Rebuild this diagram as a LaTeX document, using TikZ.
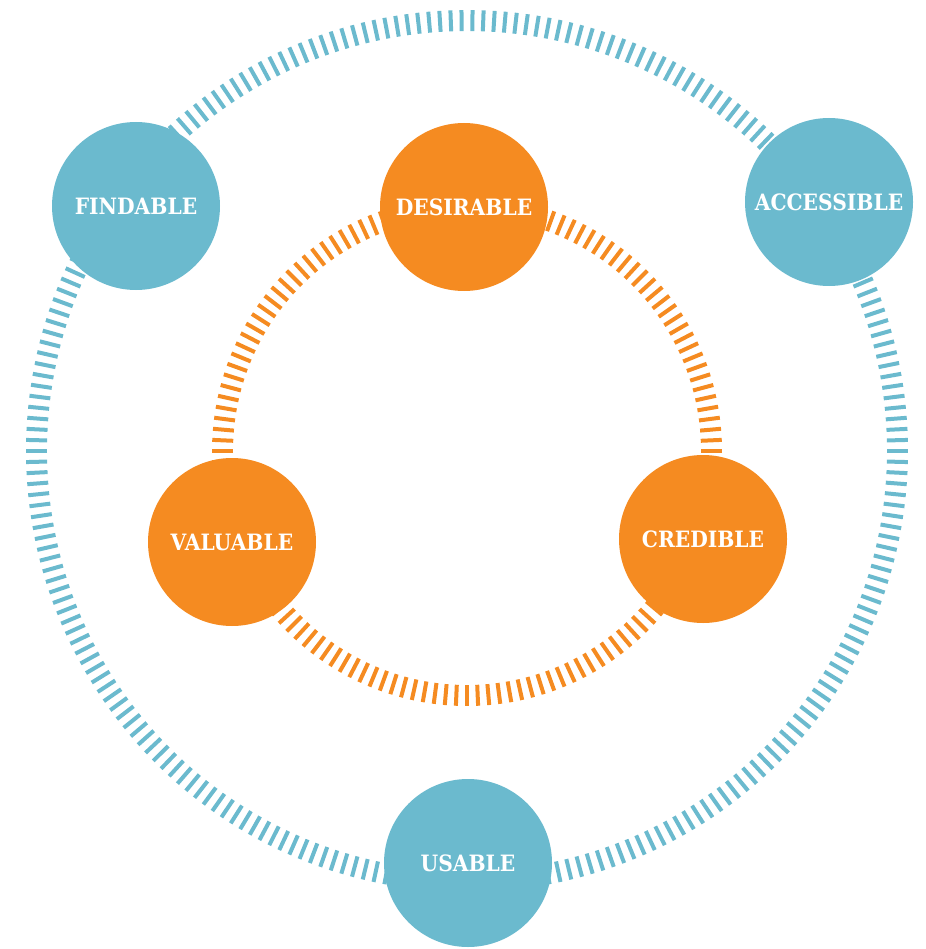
\documentclass[tikz,border=0pt]{standalone}
\usepackage{fontspec}
\usepackage{tikz}
\newfontfamily\labelfont{DejaVu Serif}[FakeStretch=0.9]
\definecolor{findblue}{RGB}{107,186,206}
\definecolor{wantorange}{RGB}{245,139,33}
\tikzstyle{outercircle} = [circle, minimum size=168pt, inner sep=0pt, fill=findblue, text=white, font=\labelfont\bfseries\fontsize{22.5}{22.5}\selectfont]
\tikzstyle{innercircle} = [circle, minimum size=168pt, inner sep=0pt, fill=wantorange, text=white, font=\labelfont\bfseries\fontsize{22.5}{22.5}\selectfont]
\tikzstyle{outertick} = [line width=4pt, draw=findblue]
\tikzstyle{innertick} = [line width=4pt, draw=wantorange]

\begin{document}
\begin{tikzpicture}[x=1pt, y=-1pt]
      \useasboundingbox (0,0) rectangle (925,949);
      \coordinate (hub) at (467,451);
      % outer ring of ticks
      \foreach \i [evaluate=\i as \a using \i*1.44] in {0,...,249}
        \draw[outertick] (hub) ++(\a:420) -- ++(\a:21);
      % inner ring of ticks
      \foreach \i [evaluate=\i as \a using \i*2.5] in {0,...,143}
        \draw[innertick] (hub) ++(\a:234) -- ++(\a:21);
      % outer circles
      \node[outercircle] (findable)   at (136,206) {FINDABLE};
      \node[outercircle] (accessible) at (829,202) {ACCESSIBLE};
      \node[outercircle] (usable)     at (468,863) {USABLE};
      % inner circles
      \node[innercircle] (desirable)  at (464,207) {DESIRABLE};
      \node[innercircle] (valuable)   at (232,542) {VALUABLE};
      \node[innercircle] (credible)   at (703,539) {CREDIBLE};
    \end{tikzpicture}
\end{document}
